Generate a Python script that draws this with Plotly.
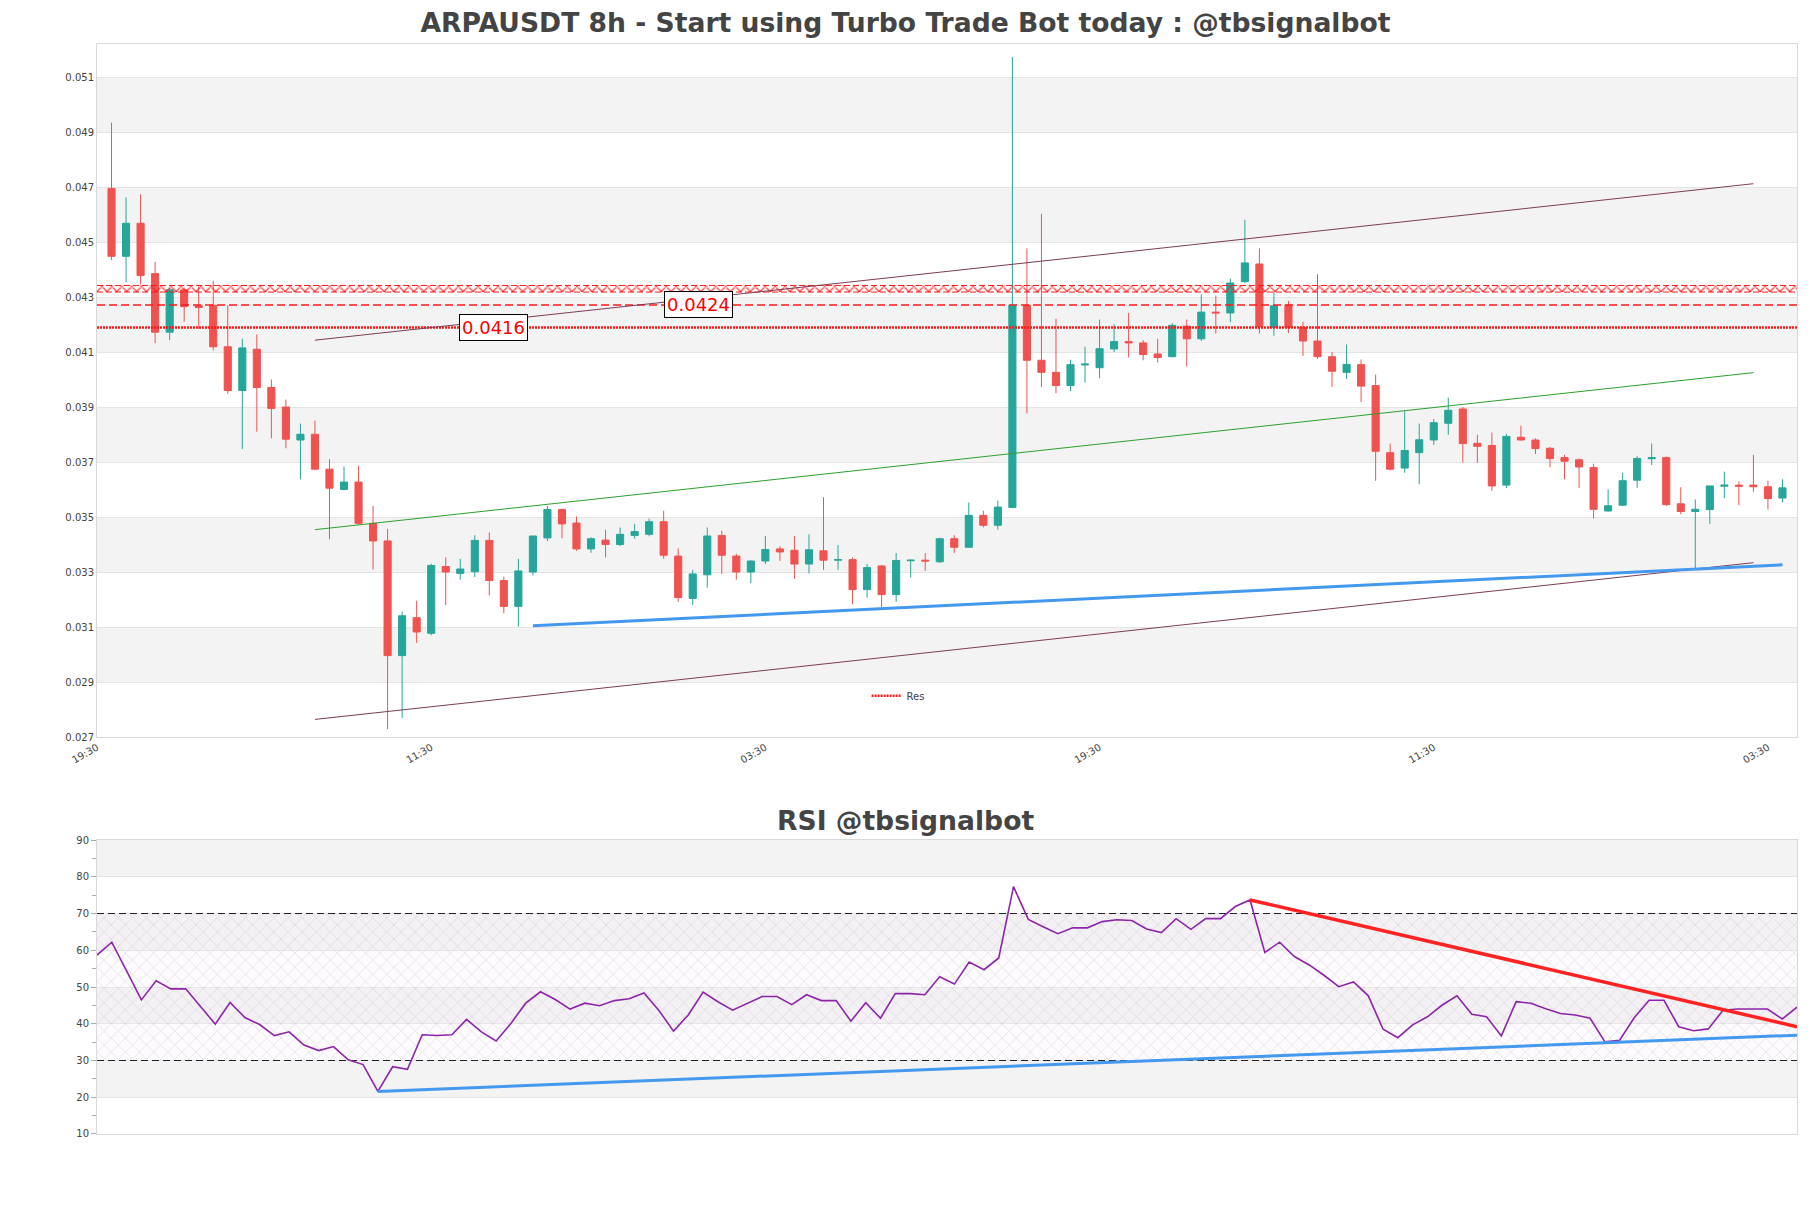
import plotly.graph_objects as go

# ------------------------------
# Candles ARPAUSDT 8h
# ------------------------------
opens = [0.04695, 0.04448, 0.04568, 0.04385, 0.04172, 0.04326, 0.04268, 0.04270, 0.04119, 0.03960,
         0.04110, 0.03971, 0.03900, 0.03780, 0.03801, 0.03674, 0.03600, 0.03627, 0.03477, 0.03413,
         0.02996, 0.03134, 0.03077, 0.03320, 0.03295, 0.03301, 0.03415, 0.03269, 0.03175, 0.03300,
         0.03424, 0.03527, 0.03478, 0.03384, 0.03416, 0.03400, 0.03433, 0.03437, 0.03483, 0.03358,
         0.03204, 0.03290, 0.03433, 0.03358, 0.03300, 0.03340, 0.03384, 0.03379, 0.03329, 0.03377,
         0.03343, 0.03345, 0.03236, 0.03322, 0.03218, 0.03341, 0.03343, 0.03337, 0.03421, 0.03390,
         0.03506, 0.03470, 0.03535, 0.04270, 0.04070, 0.04026, 0.03978, 0.04053, 0.04043, 0.04111,
         0.04138, 0.04133, 0.04093, 0.04083, 0.04194, 0.04148, 0.04245, 0.04242, 0.04356, 0.04420,
         0.04189, 0.04270, 0.04189, 0.04140, 0.04083, 0.04026, 0.04054, 0.03978, 0.03734, 0.03678,
         0.03734, 0.03780, 0.03841, 0.03893, 0.03768, 0.03760, 0.03616, 0.03790, 0.03780, 0.03750,
         0.03716, 0.03708, 0.03680, 0.03522, 0.03543, 0.03634, 0.03712, 0.03716, 0.03548, 0.03520,
         0.03527, 0.03612, 0.03616, 0.03616, 0.03610, 0.03569]
highs = [0.04934, 0.04662, 0.04673, 0.04428, 0.04334, 0.04334, 0.04338, 0.04359, 0.04270, 0.04148,
         0.04164, 0.04000, 0.03927, 0.03840, 0.03851, 0.03710, 0.03684, 0.03686, 0.03540, 0.03457,
         0.03157, 0.03196, 0.03330, 0.03353, 0.03348, 0.03434, 0.03444, 0.03283, 0.03348, 0.03431,
         0.03540, 0.03531, 0.03502, 0.03426, 0.03454, 0.03462, 0.03475, 0.03494, 0.03523, 0.03386,
         0.03308, 0.03462, 0.03450, 0.03366, 0.03343, 0.03431, 0.03394, 0.03431, 0.03437, 0.03572,
         0.03398, 0.03353, 0.03329, 0.03326, 0.03369, 0.03345, 0.03369, 0.03425, 0.03434, 0.03553,
         0.03523, 0.03560, 0.05173, 0.04477, 0.04602, 0.04221, 0.04072, 0.04119, 0.04218, 0.04201,
         0.04242, 0.04143, 0.04148, 0.04205, 0.04218, 0.04310, 0.04305, 0.04367, 0.04581, 0.04477,
         0.04318, 0.04286, 0.04210, 0.04383, 0.04100, 0.04127, 0.04073, 0.04018, 0.03767, 0.03885,
         0.03840, 0.03856, 0.03934, 0.03900, 0.03799, 0.03807, 0.03802, 0.03832, 0.03786, 0.03755,
         0.03726, 0.03713, 0.03694, 0.03600, 0.03661, 0.03721, 0.03767, 0.03720, 0.03608, 0.03564,
         0.03613, 0.03665, 0.03629, 0.03726, 0.03632, 0.03637]
lows = [0.04435, 0.04354, 0.04346, 0.04132, 0.04143, 0.04210, 0.04184, 0.04106, 0.03948, 0.03747,
        0.03810, 0.03786, 0.03750, 0.03637, 0.03670, 0.03419, 0.03597, 0.03471, 0.03309, 0.02729,
        0.02769, 0.03042, 0.03070, 0.03180, 0.03272, 0.03282, 0.03215, 0.03150, 0.03101, 0.03288,
        0.03413, 0.03423, 0.03377, 0.03370, 0.03353, 0.03394, 0.03421, 0.03430, 0.03348, 0.03191,
        0.03180, 0.03243, 0.03293, 0.03272, 0.03259, 0.03329, 0.03340, 0.03275, 0.03295, 0.03308,
        0.03308, 0.03183, 0.03207, 0.03171, 0.03191, 0.03280, 0.03304, 0.03333, 0.03369, 0.03389,
        0.03462, 0.03454, 0.03532, 0.03877, 0.03973, 0.03950, 0.03958, 0.03989, 0.04005, 0.04100,
        0.04080, 0.04070, 0.04062, 0.04080, 0.04047, 0.04140, 0.04167, 0.04208, 0.04351, 0.04167,
        0.04159, 0.04169, 0.04086, 0.04075, 0.03973, 0.04002, 0.03918, 0.03632, 0.03669, 0.03661,
        0.03619, 0.03762, 0.03799, 0.03699, 0.03697, 0.03596, 0.03605, 0.03778, 0.03729, 0.03681,
        0.03637, 0.03605, 0.03494, 0.03519, 0.03540, 0.03606, 0.03689, 0.03540, 0.03510, 0.03309,
        0.03475, 0.03569, 0.03543, 0.03592, 0.03527, 0.03553]
closes = [0.04448, 0.04568, 0.04378, 0.04172, 0.04326, 0.04265, 0.04262, 0.04119, 0.03960, 0.04115,
          0.03971, 0.03895, 0.03783, 0.03801, 0.03674, 0.03605, 0.03627, 0.03477, 0.03413, 0.02996,
          0.03141, 0.03082, 0.03324, 0.03300, 0.03311, 0.03415, 0.03269, 0.03175, 0.03304, 0.03431,
          0.03527, 0.03475, 0.03384, 0.03421, 0.03400, 0.03437, 0.03447, 0.03483, 0.03361, 0.03207,
          0.03293, 0.03431, 0.03361, 0.03300, 0.03340, 0.03382, 0.03373, 0.03329, 0.03381, 0.03343,
          0.03345, 0.03236, 0.03316, 0.03218, 0.03342, 0.03343, 0.03340, 0.03421, 0.03390, 0.03506,
          0.03470, 0.03536, 0.04270, 0.04070, 0.04026, 0.03978, 0.04054, 0.04056, 0.04112, 0.04138,
          0.04133, 0.04091, 0.04080, 0.04197, 0.04148, 0.04245, 0.04242, 0.04351, 0.04424, 0.04192,
          0.04268, 0.04189, 0.04140, 0.04083, 0.04030, 0.04055, 0.03976, 0.03739, 0.03674, 0.03742,
          0.03781, 0.03843, 0.03888, 0.03767, 0.03757, 0.03613, 0.03793, 0.03780, 0.03749, 0.03713,
          0.03703, 0.03682, 0.03528, 0.03541, 0.03632, 0.03713, 0.03716, 0.03545, 0.03520, 0.03528,
          0.03613, 0.03616, 0.03612, 0.03610, 0.03567, 0.03606]
idx = list(range(len(opens)))

# RSI (14)
rsi = [58.7, 62.2, 54.4, 46.5, 51.7, 49.5, 49.5, 44.6, 39.9, 45.8,
       41.7, 39.8, 36.8, 37.8, 34.2, 32.7, 33.8, 30.2, 28.9, 21.6,
       28.3, 27.6, 37.0, 36.8, 37.0, 41.2, 37.8, 35.3, 40.1, 45.6,
       48.7, 46.6, 44.0, 45.6, 44.9, 46.3, 46.8, 48.4, 43.7, 38.0,
       42.4, 48.6, 46.0, 43.7, 45.6, 47.4, 47.4, 45.2, 47.9, 46.3,
       46.3, 40.7, 45.7, 41.5, 48.2, 48.2, 47.9, 52.8, 50.8, 56.8,
       54.7, 57.9, 77.3, 68.4, 66.4, 64.5, 66.1, 66.1, 67.8, 68.3,
       68.1, 65.8, 64.8, 68.6, 65.7, 68.6, 68.6, 71.9, 73.7, 59.4,
       62.2, 58.3, 56.0, 53.2, 50.1, 51.4, 47.6, 38.5, 36.2, 39.7,
       41.9, 45.1, 47.6, 42.6, 41.9, 36.7, 46.0, 45.6, 44.1, 42.8,
       42.4, 41.5, 35.1, 35.5, 41.7, 46.4, 46.4, 39.2, 38.1, 38.6,
       43.7, 44.0, 44.0, 44.0, 41.3, 44.5]

# eixo x
tick_pos = [-1, 22, 45, 68, 91, 114]
tick_text = ["19:30", "11:30", "03:30", "19:30", "11:30", "03:30"]
x_span = [-1, 116]

# niveis de resistencia
res_band = [0.04318, 0.04342]
res_dash = 0.04271
res_dot = 0.04189
label_dash = "0.0424"
label_dot = "0.0416"
label_dash_x = 40.4
label_dot_x = 26.3

# canal e suporte
channel_x = [14, 113]
channel_up = [0.04143, 0.04712]
channel_mid = [0.03454, 0.04025]
channel_low = [0.02764, 0.03334]
support_x = [29, 115]
support_y = [0.03105, 0.03326]

# linhas do RSI
rsi_res_x = [78, 115]
rsi_res_y = [73.7, 39.2]
rsi_sup_x = [19, 115]
rsi_sup_y = [21.6, 36.9]
rsi_levels = [30, 70]

price_bands = [(0.029, 0.031), (0.033, 0.035), (0.037, 0.039),
               (0.041, 0.043), (0.045, 0.047), (0.049, 0.051)]
rsi_bands = [(20, 30), (40, 50), (60, 70), (80, 90)]

RED = "#ff1a1a"
MAROON = "#7d3c55"

fig = go.Figure()

# ---- Candles ----
fig.add_trace(go.Candlestick(
    x=idx, open=opens, high=highs, low=lows, close=closes,
    increasing=dict(line=dict(color="#26a69a", width=1), fillcolor="#26a69a"),
    decreasing=dict(line=dict(color="#ef5350", width=1), fillcolor="#ef5350"),
    showlegend=False, xaxis="x", yaxis="y",
))

# ---- faixa hachurada ----
fig.add_trace(go.Scatter(
    x=x_span, y=[res_band[0]] * 2, mode="lines",
    line=dict(color=RED, width=1, dash="6px,3px"), showlegend=False,
    hoverinfo="skip", xaxis="x", yaxis="y",
))
fig.add_trace(go.Scatter(
    x=x_span, y=[res_band[1]] * 2, mode="lines",
    line=dict(color=RED, width=1, dash="6px,3px"), fill="tonexty",
    fillcolor="rgba(255,255,255,0)",
    fillpattern=dict(shape="x", fgcolor=RED, fgopacity=1, bgcolor="rgba(255,255,255,0)",
                     size=7, solidity=0.3),
    showlegend=False, hoverinfo="skip", xaxis="x", yaxis="y",
))

# ---- resistencias ----
fig.add_trace(go.Scatter(
    x=x_span, y=[res_dash] * 2, mode="lines",
    line=dict(color=RED, width=1.3, dash="8px,4px"), showlegend=False,
    hoverinfo="skip", xaxis="x", yaxis="y",
))
fig.add_trace(go.Scatter(
    x=x_span, y=[res_dot] * 2, mode="lines", name="Res",
    line=dict(color=RED, width=2.5, dash="2px,1px"), showlegend=True,
    hoverinfo="skip", xaxis="x", yaxis="y",
))

# ---- canal ----
for yy, cor in [(channel_up, MAROON), (channel_mid, "#2ca02c"), (channel_low, MAROON)]:
    fig.add_trace(go.Scatter(
        x=channel_x, y=yy, mode="lines", line=dict(color=cor, width=1),
        showlegend=False, hoverinfo="skip", xaxis="x", yaxis="y",
    ))
fig.add_trace(go.Scatter(
    x=support_x, y=support_y, mode="lines", line=dict(color="#4499ee", width=3),
    showlegend=False, hoverinfo="skip", xaxis="x", yaxis="y",
))

# ---- RSI ----
fig.add_trace(go.Scatter(
    x=[0, 115], y=[rsi_levels[0]] * 2, mode="lines",
    line=dict(color="#222222", width=1, dash="7px,4px"),
    showlegend=False, hoverinfo="skip", xaxis="x2", yaxis="y2",
))
fig.add_trace(go.Scatter(
    x=[0, 115], y=[rsi_levels[1]] * 2, mode="lines",
    line=dict(color="#222222", width=1, dash="7px,4px"), fill="tonexty",
    fillcolor="rgba(255,255,255,0)",
    fillpattern=dict(shape="x", fgcolor="rgb(170,155,185)", fgopacity=0.45,
                     bgcolor="rgba(244,236,247,0.2)", size=10, solidity=0.1),
    showlegend=False, hoverinfo="skip", xaxis="x2", yaxis="y2",
))
fig.add_trace(go.Scatter(
    x=idx, y=rsi, mode="lines", line=dict(color="#8e24aa", width=1.6),
    showlegend=False, xaxis="x2", yaxis="y2",
))
fig.add_trace(go.Scatter(
    x=rsi_res_x, y=rsi_res_y, mode="lines", line=dict(color="#ff2222", width=3.5),
    showlegend=False, hoverinfo="skip", xaxis="x2", yaxis="y2",
))
fig.add_trace(go.Scatter(
    x=rsi_sup_x, y=rsi_sup_y, mode="lines", line=dict(color="#4499ee", width=3),
    showlegend=False, hoverinfo="skip", xaxis="x2", yaxis="y2",
))

# ------------------------------
# faixas de fundo
# ------------------------------
shapes = []
for y0, y1 in price_bands:
    shapes.append(dict(type="rect", xref="x domain", yref="y", x0=0, x1=1, y0=y0, y1=y1,
                       fillcolor="#f3f3f3", line=dict(width=0), layer="below"))
for y0, y1 in rsi_bands:
    shapes.append(dict(type="rect", xref="x2 domain", yref="y2", x0=0, x1=1, y0=y0, y1=y1,
                       fillcolor="#f3f3f3", line=dict(width=0), layer="below"))

annotations = [
    dict(x=label_dot_x, y=res_dot, xref="x", yref="y", text=label_dot, showarrow=False,
         font=dict(size=18, color="red"), bgcolor="white", bordercolor="black",
         borderwidth=1, borderpad=2),
    dict(x=label_dash_x, y=res_dash, xref="x", yref="y", text=label_dash, showarrow=False,
         font=dict(size=18, color="red"), bgcolor="white", bordercolor="black",
         borderwidth=1, borderpad=2),
    dict(x=0.4756, y=0.288, xref="paper", yref="paper", text="<b>RSI @tbsignalbot</b>",
         showarrow=False, yanchor="middle", font=dict(size=26.6, color="#444")),
]

axis_line = dict(showline=True, mirror=True, linecolor="#d9d9d9", linewidth=1, zeroline=False)

# a pagina tem 8px de margem no body
W, H = 1795, 1192

fig.update_layout(
    width=W, height=H,
    margin=dict(l=89, r=6, t=36, b=66),
    paper_bgcolor="white", plot_bgcolor="white",
    font=dict(family="DejaVu Sans", size=10, color="#444"),
    title=dict(text="<b>ARPAUSDT 8h - Start using Turbo Trade Bot today : @tbsignalbot</b>",
               x=0.5, xref="container", y=1 - 15 / H, yref="container", yanchor="middle",
               font=dict(size=26.6, color="#444")),
    xaxis=dict(domain=[0, 1], anchor="y", range=[-1, 116], tickvals=tick_pos,
               ticktext=tick_text, tickangle=-30, showgrid=False,
               rangeslider=dict(visible=False), **axis_line),
    yaxis=dict(domain=[0.3642, 1], anchor="x", range=[0.027, 0.0522], tick0=0.027,
               dtick=0.002, tickformat=".3f", gridcolor="#e4e4e4", **axis_line),
    xaxis2=dict(domain=[0, 1], anchor="y2", range=[0, 115], showticklabels=False,
                showgrid=False, **axis_line),
    yaxis2=dict(domain=[0, 0.2697], anchor="x2", range=[10, 90], dtick=10,
                ticks="outside", ticklen=5, tickcolor="#aaaaaa",
                minor=dict(dtick=5, ticks="outside", ticklen=4, tickcolor="#aaaaaa"),
                gridcolor="#e4e4e4", **axis_line),
    showlegend=True,
    legend=dict(orientation="h", x=0.4527, y=0.402, xanchor="left", yanchor="middle",
                bgcolor="rgba(0,0,0,0)", font=dict(size=10)),
    shapes=shapes,
    annotations=annotations,
)

fig.write_html("out.html")
